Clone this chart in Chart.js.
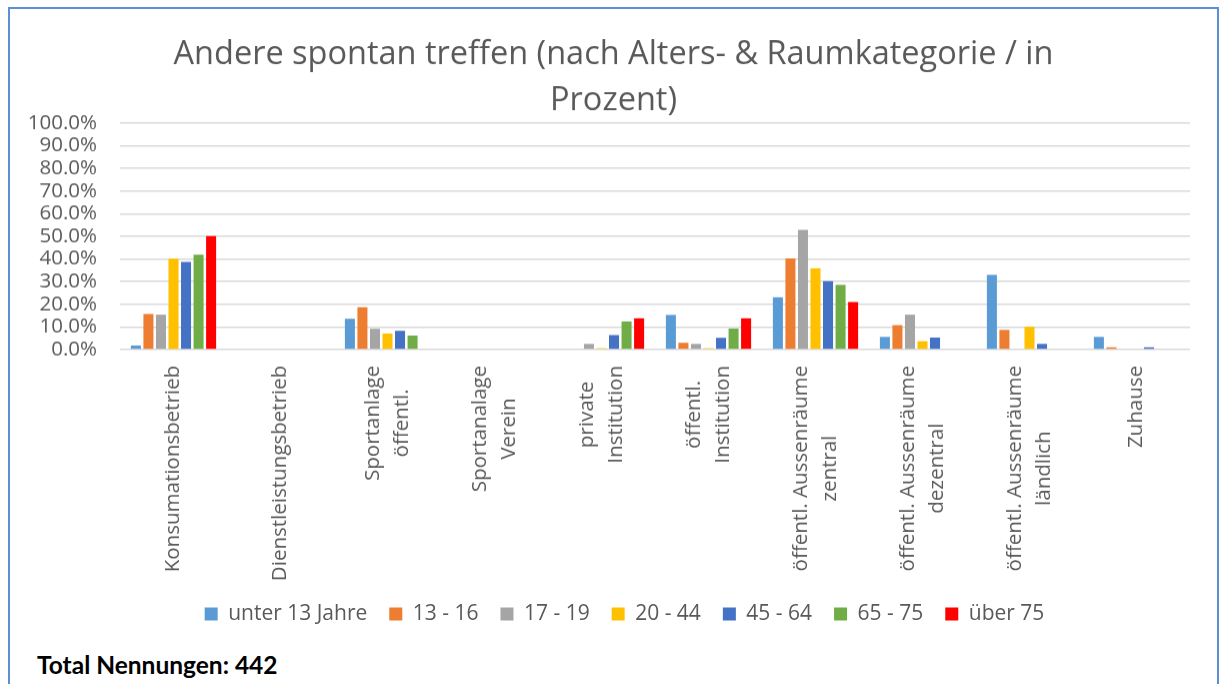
<!DOCTYPE html>
<html>
<head>
<meta charset="utf-8">
<script src="https://cdn.jsdelivr.net/npm/chart.js@4.4.1/dist/chart.umd.min.js"></script>
<style>
  html, body { margin: 0; padding: 0; background: #fff; }
  body { width: 1219px; height: 684px; position: relative; overflow: hidden; }
  #rahmen {
    position: absolute; left: 8px; top: 7px; width: 1211px; height: 700px;
    border: 2.5px solid #5b8fd8; border-bottom: none; box-sizing: border-box;
  }
  #wrap { position: absolute; left: 11px; top: 10px; width: 1205px; height: 623.5px; }
  #total {
    position: absolute; left: 37px; top: 650px;
    font-family: Lato, sans-serif; font-weight: bold; font-size: 24.5px; color: #000;
  }
</style>
</head>
<body>
<div id="rahmen"></div>
<div id="wrap"><canvas id="grafico"></canvas></div>
<div id="total">Total Nennungen: 442</div>

<script>
const kategorien = [
    'Konsumationsbetrieb',
    'Dienstleistungsbetrieb',
    ['Sportanlage', 'öffentl.'],
    ['Sportanalage', 'Verein'],
    ['private', 'Institution'],
    ['öffentl.', 'Institution'],
    ['öffentl. Aussenräume', 'zentral'],
    ['öffentl. Aussenräume', 'dezentral'],
    ['öffentl. Aussenräume', 'ländlich'],
    'Zuhause'
];

const altersgruppen = ['unter 13 Jahre', '13 - 16', '17 - 19', '20 - 44', '45 - 64', '65 - 75', 'über 75'];

const unter13 = [1.8, 0, 13.6, 0, 0, 15.3, 23.1, 5.6, 33.0, 5.6];
const alter13bis16 = [15.7, 0, 18.7, 0, 0, 3.0, 40.3, 10.8, 8.7, 1.0];
const alter17bis19 = [15.4, 0, 9.2, 0, 2.5, 2.5, 52.9, 15.4, 0, 0];
const alter20bis44 = [40.1, 0, 7.1, 0, 0.6, 0.6, 35.9, 3.7, 10.1, 0];
const alter45bis64 = [38.7, 0, 8.3, 0, 6.4, 5.2, 30.2, 5.3, 2.5, 1.0];
const alter65bis75 = [41.9, 0, 6.2, 0, 12.4, 9.3, 28.6, 0, 0, 0];
const ueber75 = [50.1, 0, 0, 0, 13.8, 13.8, 21.0, 0, 0, 0];

const farben = ['#5b9bd5', '#ed7d31', '#a5a5a5', '#ffc000', '#4472c4', '#70ad47', '#ff0000'];
const werte = [unter13, alter13bis16, alter17bis19, alter20bis44, alter45bis64, alter65bis75, ueber75];

const grau = '#595959';
const schrift = 'Open Sans';

// x-Beschriftungen selbst zeichnen, damit mehrzeilige Texte zentriert sind (wie in Excel)
const xLabelPlugin = {
    id: 'xLabels',
    afterLayout(chart) {
        // Legende etwas nach rechts, wie im Original
        chart.legend.left += 11;
        chart.legend.right += 11;
    },
    afterDraw(chart) {
        const ctx = chart.ctx;
        const xs = chart.scales.x;
        const zeilenHoehe = 29;
        ctx.save();
        ctx.font = `20.5px "${schrift}"`;
        ctx.fillStyle = grau;
        ctx.textAlign = 'center';
        ctx.textBaseline = 'middle';
        kategorien.forEach((lab, i) => {
            const zeilen = Array.isArray(lab) ? lab : [lab];
            const maxW = Math.max(...zeilen.map(z => ctx.measureText(z).width));
            const x = xs.getPixelForTick(i);
            const yTop = xs.top + 16;
            zeilen.forEach((z, j) => {
                const xj = x + (j - (zeilen.length - 1) / 2) * zeilenHoehe;
                ctx.save();
                ctx.translate(xj, yTop + maxW / 2);
                ctx.rotate(-Math.PI / 2);
                ctx.fillText(z, 0, 0);
                ctx.restore();
            });
        });
        ctx.restore();
    }
};

function zeichnen() {
    new Chart(document.getElementById('grafico'), {
        type: 'bar',
        data: {
            labels: kategorien,
            datasets: altersgruppen.map((name, k) => ({
                label: name,
                data: werte[k],
                backgroundColor: farben[k],
                borderWidth: 0,
                categoryPercentage: 0.82,
                barPercentage: 0.8
            }))
        },
        options: {
            responsive: true,
            maintainAspectRatio: false,
            animation: false,
            layout: { padding: 0 },
            plugins: {
                title: {
                    display: true,
                    text: ['Andere spontan treffen (nach Alters- & Raumkategorie / in', 'Prozent)'],
                    color: grau,
                    font: { family: schrift, size: 32.5, weight: 'normal', lineHeight: 1.4 },
                    padding: { top: 22, bottom: 0 }
                },
                legend: {
                    position: 'bottom',
                    labels: {
                        color: grau,
                        font: { family: schrift, size: 21 },
                        boxWidth: 13,
                        boxHeight: 13,
                        padding: 22
                    }
                },
                tooltip: { enabled: false }
            },
            scales: {
                x: {
                    grid: { display: false },
                    border: { display: false },
                    ticks: { display: false },
                    afterFit(scale) { scale.height = 231.5; }
                },
                y: {
                    min: 0,
                    max: 100,
                    ticks: {
                        stepSize: 10,
                        autoSkip: false,
                        color: grau,
                        padding: 23,
                        font: { family: schrift, size: 20.5 },
                        callback: v => v.toFixed(1) + '%'
                    },
                    grid: { color: '#d9d9d9', lineWidth: 1.5, drawTicks: false },
                    border: { display: false },
                    afterFit(scale) { scale.width = 109; }
                },
                rechts: {
                    position: 'right',
                    display: true,
                    ticks: { display: false },
                    grid: { display: false },
                    border: { display: false },
                    afterFit(scale) { scale.width = 26; }
                }
            }
        },
        plugins: [xLabelPlugin]
    });
}

Promise.all([
    document.fonts.load(`20px "${schrift}"`),
    document.fonts.load('bold 24px Lato')
]).then(zeichnen, zeichnen);
</script>
</body>
</html>
